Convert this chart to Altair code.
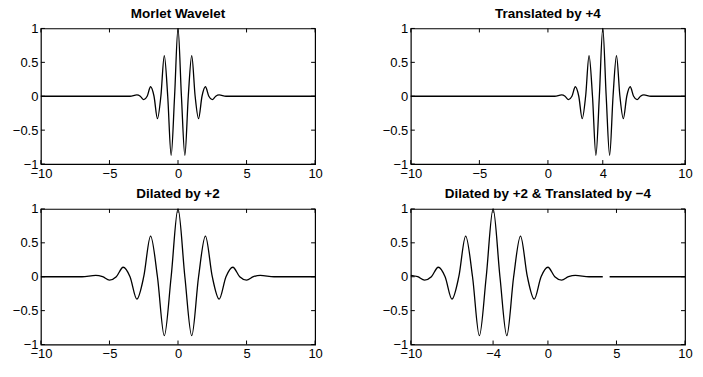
import altair as alt
import pandas as pd

# Wavelet shape: extrema and zero crossings
amp = [0, 0, 0.02, 0, -0.05, 0, 0.14, 0, -0.33, 0, 0.6, 0, -0.87, 0, 1.0,
       0, -0.87, 0, 0.6, 0, -0.33, 0, 0.14, 0, -0.05, 0, 0.02, 0, 0]

x_morlet = [-10, -3.5, -3, -2.75, -2.5, -2.25, -2, -1.75, -1.5, -1.25, -1, -0.75,
            -0.5, -0.25, 0, 0.25, 0.5, 0.75, 1, 1.25, 1.5, 1.75, 2, 2.25, 2.5,
            2.75, 3, 3.5, 10]
x_trans = [-10, 0.5, 1, 1.25, 1.5, 1.75, 2, 2.25, 2.5, 2.75, 3, 3.25, 3.5, 3.75,
           4, 4.25, 4.5, 4.75, 5, 5.25, 5.5, 5.75, 6, 6.25, 6.5, 6.75, 7, 7.5, 10]
x_dil = [-10, -7, -6, -5.5, -5, -4.5, -4, -3.5, -3, -2.5, -2, -1.5, -1, -0.5, 0,
         0.5, 1, 1.5, 2, 2.5, 3, 3.5, 4, 4.5, 5, 5.5, 6, 7, 10]
x_dt = [-10, -9.5, -9, -8.5, -8, -7.5, -7, -6.5, -6, -5.5, -5, -4.5, -4, -3.5, -3,
        -2.5, -2, -1.5, -1, -0.5, 0, 0.5, 1, 1.5, 2, 3, 4, 4.5, 10]
y_dt = [0.02, 0, -0.05, 0, 0.14, 0, -0.33, 0, 0.6, 0, -0.87, 0, 1.0, 0, -0.87,
        0, 0.6, 0, -0.33, 0, 0.14, 0, -0.05, 0, 0.02, 0, 0, 0, 0]
seg_dt = [0] * 27 + [1] * 2

titles = ["Morlet Wavelet", "Translated by +4", "Dilated by +2",
          "Dilated by +2 & Translated by \u22124"]
xticks = [[-10, -5, 0, 5, 10], [-10, -5, 0, 4, 10],
          [-10, -5, 0, 5, 10], [-10, -4, 0, 5, 10]]
yticks = [-1, -0.5, 0, 0.5, 1]

W, H = 275, 136
TL = 4
FONT = "Liberation Sans"

series = [
    (x_morlet, amp, [0] * len(amp)),
    (x_trans, amp, [0] * len(amp)),
    (x_dil, amp, [0] * len(amp)),
    (x_dt, y_dt, seg_dt),
]


def panel(i):
    xs, ys, segs = series[i]
    df = pd.DataFrame({"x": xs, "y": ys, "seg": segs})
    xsc = alt.Scale(domain=[-10, 10], nice=False, zero=False)
    ysc = alt.Scale(domain=[-1, 1], nice=False, zero=False)
    xax = alt.Axis(values=xticks[i], ticks=False, domain=False, grid=False, format="~r",
                   labelPadding=3, labelFlush=False, title=None)
    yax = alt.Axis(values=yticks, ticks=False, domain=False, grid=False, format="~r",
                   labelPadding=3, labelFlush=False, title=None)
    line = alt.Chart(df).mark_line(color="black", strokeWidth=1.3, interpolate="monotone").encode(
        x=alt.X("x:Q", scale=xsc, axis=xax),
        y=alt.Y("y:Q", scale=ysc, axis=yax),
        detail="seg:N",
    )
    xt = pd.DataFrame({"t": xticks[i]})
    yt = pd.DataFrame({"t": yticks})
    xb = alt.Chart(xt).mark_rule(color="black", strokeWidth=1).encode(
        x=alt.X("t:Q", scale=xsc, axis=xax), y=alt.value(H), y2=alt.value(H - TL))
    xtop = alt.Chart(xt).mark_rule(color="black", strokeWidth=1).encode(
        x=alt.X("t:Q", scale=xsc, axis=xax), y=alt.value(0), y2=alt.value(TL))
    yl = alt.Chart(yt).mark_rule(color="black", strokeWidth=1).encode(
        y=alt.Y("t:Q", scale=ysc, axis=yax), x=alt.value(0), x2=alt.value(TL))
    yr = alt.Chart(yt).mark_rule(color="black", strokeWidth=1).encode(
        y=alt.Y("t:Q", scale=ysc, axis=yax), x=alt.value(W), x2=alt.value(W - TL))
    return alt.layer(line, xb, xtop, yl, yr).properties(
        width=W, height=H,
        title=alt.TitleParams(titles[i], font=FONT, fontSize=13.5, fontWeight="bold",
                              color="black", offset=2),
    )


chart = alt.vconcat(
    alt.hconcat(panel(0), panel(1), spacing=58),
    alt.hconcat(panel(2), panel(3), spacing=58),
    spacing=5,
).properties(
    padding={"left": 3, "top": -3, "right": 2, "bottom": -2.5}
).configure_view(stroke="black", strokeWidth=1.2).configure_axis(
    labelFont=FONT, labelFontSize=13, labelColor="black"
)

chart.save("out.html", embed_options={"renderer": "svg", "actions": False})
